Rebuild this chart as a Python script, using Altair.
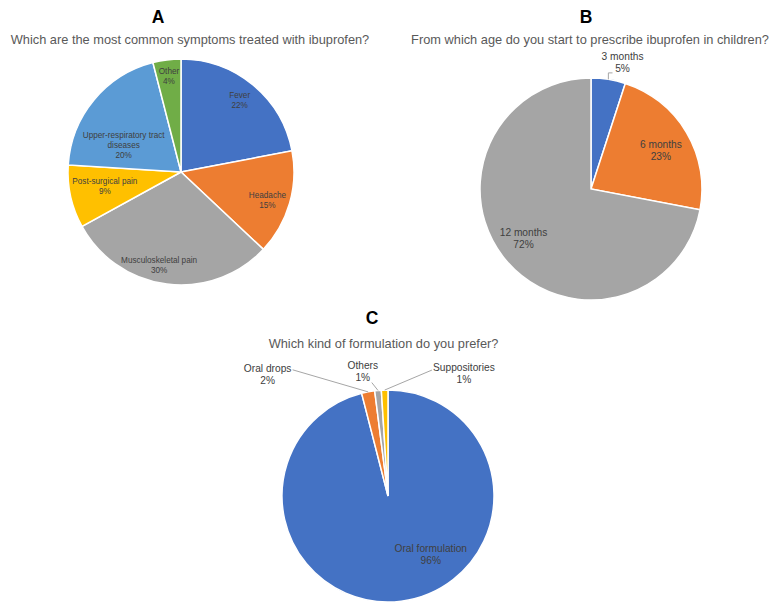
import textwrap
import altair as alt
import pandas as pd

# ---------------- data ----------------
a_names = ["Fever", "Headache", "Musculoskeletal pain", "Post-surgical pain",
           "Upper-respiratory tract diseases", "Other"]
a_values = [22, 15, 30, 9, 20, 4]

b_names = ["3 months", "6 months", "12 months"]
b_values = [5, 23, 72]

c_names = ["Oral formulation", "Oral drops", "Others", "Suppositories"]
c_values = [96, 2, 1, 1]

panel_letters = ["A", "B", "C"]
questions = [
    "Which are the most common symptoms treated with ibuprofen?",
    "From which age do you start to prescribe ibuprofen in children?",
    "Which kind of formulation do you prefer?",
]

# ---------------- style / layout ----------------
OFFICE = ["#4472C4", "#ED7D31", "#A5A5A5", "#FFC000", "#5B9BD5", "#70AD47"]
FONT = "Liberation Sans"
LABEL_COLOR = "#404040"
SUB_COLOR = "#595959"
LEADER_COLOR = "#A6A6A6"
M = 8  # page margin


def px(v):
    return v - M


GEO = {
    "A": dict(cx=181, cy=172, r=113, font=8.2, lh=10),
    "B": dict(cx=591, cy=189, r=111, font=10.2, lh=12),
    "C": dict(cx=388, cy=496, r=106, font=10.2, lh=12),
}

# label placement: radius along the slice mid-angle, then dx/dy nudges
LABEL_POS = {
    "A": {"Fever": (92, 0, 0), "Headache": (90, 0, 4), "Musculoskeletal pain": (95, -10, 0),
          "Post-surgical pain": (78, 0, -2), "Upper-respiratory tract diseases": (64, -8, 15),
          "Other": (96, 0, 0)},
    "B": {"3 months": (128, 11.5, 0), "6 months": (80, 1, 3), "12 months": (85, -2, -4)},
    "C": {"Oral formulation": (70, 34, -10), "Oral drops": (130, -96, 7),
          "Others": (130, -13, 5), "Suppositories": (130, 80, 8)},
}
# leader lines: end point relative to label centre, and whether it has an elbow
LEADERS = {
    "B": {"3 months": (-10, 10.3, True)},
    "C": {"Oral drops": (25, -5.5, False), "Others": (9, 11, False),
          "Suppositories": (-32, -4, False)},
}

TITLE_POS = {
    "A": dict(letter=(158, 23), sub=(190, 44)),
    "B": dict(letter=(586, 23), sub=(590, 44)),
    "C": dict(letter=(372, 324), sub=(383.5, 348)),
}


def frame(names, values):
    return pd.DataFrame({
        "idx": list(range(len(names))),
        "name": names,
        "value": values,
        "label": [textwrap.fill(n, 24, break_on_hyphens=False) + f"\n{v}%"
                  for n, v in zip(names, values)],
    })


def arcs(df, g, colors):
    return alt.Chart(df).mark_arc(outerRadius=g["r"], stroke="white", strokeWidth=1.5).encode(
        theta=alt.Theta("value:Q", stack=True),
        color=alt.Color("name:N", scale=alt.Scale(domain=list(df["name"]), range=colors),
                        legend=None),
        order=alt.Order("idx:Q"),
        x=alt.value(px(g["cx"])),
        y=alt.value(px(g["cy"])),
    )


def polar(df):
    return (alt.Chart(df)
            .transform_joinaggregate(total="sum(value)")
            .transform_window(cum="sum(value)", sort=[alt.SortField("idx")], frame=[None, 0])
            .transform_calculate(ang="2*PI*(datum.cum - datum.value/2)/datum.total"))


def label(df, g, name, rho, dx, dy):
    n_lines = df.loc[df["name"] == name, "label"].iloc[0].count("\n") + 1
    block_dy = dy - (n_lines - 1) * g["lh"] / 2  # centre the multi-line block
    return polar(df).transform_filter(alt.datum.name == name).mark_text(
        radius=rho, dx=dx, dy=block_dy, fontSize=g["font"], lineHeight=g["lh"], lineBreak="\n",
        font=FONT, color=LABEL_COLOR, align="center", baseline="middle",
    ).encode(
        theta=alt.Theta("ang:Q", scale=None),
        text="label:N",
        x=alt.value(px(g["cx"])),
        y=alt.value(px(g["cy"])),
    )


def leader(df, g, name, rho, dx, dy, ox, oy, elbow):
    cx, cy, r = px(g["cx"]), px(g["cy"]), g["r"]
    base = polar(df).transform_filter(alt.datum.name == name).transform_calculate(
        ex=f"{cx} + {r}*sin(datum.ang)",
        ey=f"{cy} - {r}*cos(datum.ang)",
        lx=f"{cx} + {rho}*sin(datum.ang) + {dx + ox}",
        ly=f"{cy} - {rho}*cos(datum.ang) + {dy + oy}",
    )
    rule = lambda b, x1, y1, x2, y2: b.mark_rule(color=LEADER_COLOR, strokeWidth=1).encode(
        x=alt.X(f"{x1}:Q", scale=None, axis=None),
        y=alt.Y(f"{y1}:Q", scale=None, axis=None),
        x2=f"{x2}:Q", y2=f"{y2}:Q",
    )
    if elbow:
        return [rule(base, "ex", "ey", "ex", "ly"), rule(base, "ex", "ly", "lx", "ly")]
    return [rule(base, "ex", "ey", "lx", "ly")]


def text_at(txt, x, y, size, bold, color):
    return alt.Chart(pd.DataFrame({"t": [txt]})).mark_text(
        font=FONT, fontSize=size, fontWeight="bold" if bold else "normal", color=color,
        align="center", baseline="alphabetic",
    ).encode(text="t:N", x=alt.value(px(x)), y=alt.value(px(y)))


layers = []
panels = [("A", a_names, a_values, OFFICE[:6]),
          ("B", b_names, b_values, OFFICE[:3]),
          ("C", c_names, c_values, OFFICE[:4])]
for (key, names, values, colors), letter, question in zip(panels, panel_letters, questions):
    g = GEO[key]
    df = frame(names, values)
    layers.append(arcs(df, g, colors))
    for name, (rho, dx, dy) in LABEL_POS[key].items():
        layers.append(label(df, g, name, rho, dx, dy))
        if name in LEADERS.get(key, {}):
            ox, oy, elbow = LEADERS[key][name]
            layers.extend(leader(df, g, name, rho, dx, dy, ox, oy, elbow))
    tp = TITLE_POS[key]
    layers.append(text_at(letter, *tp["letter"], 17.5, True, "#000000"))
    layers.append(text_at(question, *tp["sub"], 12.8, False, SUB_COLOR))

chart = alt.layer(*layers).resolve_scale(
    theta="independent", color="independent"
).properties(
    width=762, height=594, autosize=alt.AutoSizeParams(type="none"), padding=0,
).configure_view(stroke=None)

chart.save("out.html", embed_options={"renderer": "svg", "actions": False})
